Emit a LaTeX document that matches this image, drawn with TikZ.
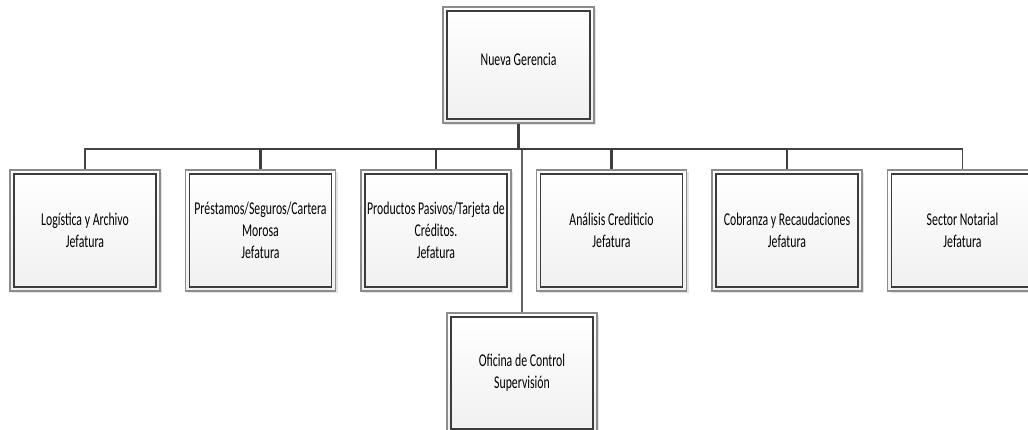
\documentclass[tikz,border=0pt]{standalone}
\usepackage{fontspec}
\setmainfont{Carlito}[FakeStretch=0.655]
\usetikzlibrary{shadows}
\definecolor{frameout}{HTML}{8C8C8C}
\definecolor{framein}{HTML}{3C3C3C}
\definecolor{boxbot}{HTML}{F0F0F0}
\definecolor{linecol}{HTML}{454545}
\tikzset{
  orgbox/.style={rectangle, draw=frameout, line width=1.4pt,
    top color=white, bottom color=boxbot,
    minimum width=150pt, minimum height=121pt, inner sep=0pt,
    align=center, font=\fontsize{18}{22}\selectfont,
    drop shadow={shadow xshift=2pt, shadow yshift=-2pt, opacity=0.22, fill=gray},
    path picture={\draw[framein, line width=1.2pt]
      ([shift={(4pt,-4pt)}]path picture bounding box.north west) rectangle
      ([shift={(-4pt,4pt)}]path picture bounding box.south east);}},
  thinlink/.style={draw=linecol, line width=1.3pt},
  thicklink/.style={draw=linecol!90!black, line width=2.2pt},
  sublink/.style={draw=linecol!85!white, line width=1.4pt}
}
\begin{document}
\begin{tikzpicture}[x=1pt, y=-1pt]
  \path[use as bounding box, clip] (0,0) rectangle (1028,430);
  \fill[white] (0,0) rectangle (1028,430);

  % head of the unit
  \node[orgbox, minimum width=151pt, minimum height=116pt, text depth=12pt] (top) at (518.5,65) {Nueva Gerencia};

  % departments
  \node[orgbox] (c1) at (85,230.5) {Logística y Archivo\\Jefatura};
  \node[orgbox] (c2) at (260.5,230.5) {Préstamos/Seguros/Cartera\\Morosa\\Jefatura};
  \node[orgbox] (c3) at (436,230.5) {Productos Pasivos/Tarjeta de\\Créditos.\\Jefatura};
  \node[orgbox] (c4) at (611.5,230.5) {Análisis Crediticio\\Jefatura};
  \node[orgbox] (c5) at (787,230.5) {Cobranza y Recaudaciones\\Jefatura};
  \node[orgbox] (c6) at (962.5,230.5) {Sector Notarial\\Jefatura};

  % staff office below the bus
  \node[orgbox, minimum height=120pt] (sup) at (522,373) {Oficina de Control\\Supervisión};

  % bus junctions
  \coordinate (bus) at (518.5,149);
  \coordinate (busb) at (522,149);

  % connectors
  \draw[sublink] (busb) -- (sup.north);
  \draw[thinlink] (top.south) -- (bus) -| (c1.north);
  \draw[thinlink] (top.south) -- (bus) -| (c6.north);
  \foreach \c in {c2,c3,c4,c5}
    \draw[thicklink] (bus) -| (\c.north);
  \draw[thicklink] (top.south) -- (bus);
\end{tikzpicture}
\end{document}
